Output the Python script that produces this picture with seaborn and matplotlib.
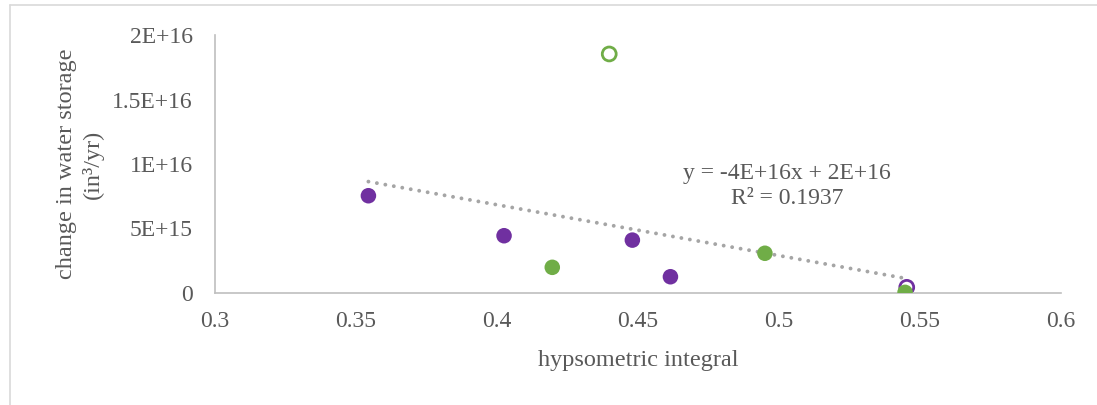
import numpy as np
import pandas as pd
import matplotlib
matplotlib.use("Agg")
import matplotlib.pyplot as plt
from matplotlib.lines import Line2D
import seaborn as sns

# ---- data ----
hyps_integral = [0.3544, 0.4025, 0.448, 0.4615, 0.5453, 0.4196, 0.495, 0.5447, 0.4398]
storage_change = [7.54e15, 4.44e15, 4.10e15, 1.26e15, 0.44e15, 1.99e15, 3.08e15, 0.05e15, 1.853e16]
group = ["purple", "purple", "purple", "purple", "purple", "green", "green", "green", "green"]
filled = [True, True, True, True, False, True, True, True, False]
x_ticks = [0.3, 0.35, 0.4, 0.45, 0.5, 0.55, 0.6]
y_ticks = [0, 5e15, 1e16, 1.5e16, 2e16]
y_tick_labels = ["0", "5E+15", "1E+16", "1.5E+16", "2E+16"]
trend_label = "y = -4E+16x + 2E+16\nR² = 0.1937"

df = pd.DataFrame({"hi": hyps_integral, "ds": storage_change,
                   "group": group, "filled": filled})

palette = {"purple": "#7030A0", "green": "#70AD47"}
TEXT = "#595959"

sns.set_theme(style="white")
plt.rcParams["font.family"] = ["Liberation Serif", "DejaVu Serif"]

fig = plt.figure(figsize=(10.97, 4.05), dpi=100)
ax = fig.add_axes([215/1097, 1-293/405, (1061-215)/1097, (293-35)/405])

# trendline over all points
slope, intercept = np.polyfit(df["hi"], df["ds"], 1)
xs = np.array([df["hi"].min(), df["hi"].max()])
ax.plot(xs, slope*xs + intercept, color="#A5A5A5", lw=2.8,
        linestyle=(0, (0.01, 2.2)), dash_capstyle="round", zorder=1)

open_df = df[~df["filled"]]
sns.scatterplot(data=open_df, x="hi", y="ds", hue="group", palette=palette,
                s=100, linewidth=2, legend=False, ax=ax, zorder=2)
coll = ax.collections[-1]
coll.set_edgecolors([palette[g] for g in open_df["group"]])
coll.set_facecolors("none")

sns.scatterplot(data=df[df["filled"]], x="hi", y="ds", hue="group",
                palette=palette, s=125, edgecolor="none", legend=False,
                ax=ax, zorder=3)

ax.set_xlim(x_ticks[0], x_ticks[-1])
ax.set_ylim(y_ticks[0], y_ticks[-1])
ax.set_xticks(x_ticks)
ax.set_xticklabels([f"{t:g}" for t in x_ticks])
ax.set_yticks(y_ticks)
ax.set_yticklabels(y_tick_labels)
ax.tick_params(axis="both", length=0, labelsize=17, colors=TEXT)
ax.tick_params(axis="x", pad=13)
ax.tick_params(axis="y", pad=16)

for s in ["top", "right"]:
    ax.spines[s].set_visible(False)
for s in ["left", "bottom"]:
    ax.spines[s].set_color("#BFBFBF")
    ax.spines[s].set_linewidth(1.2)
ax.grid(False)

ax.set_xlabel("hypsometric integral", fontsize=17.5, color=TEXT, labelpad=13)
ax.set_ylabel("change in water storage\n(in³/yr)", fontsize=17.5,
              color=TEXT, labelpad=6, linespacing=1.3)

ax.text(0.676, 0.415, trend_label, transform=ax.transAxes, ha="center",
        va="center", fontsize=17, color=TEXT, linespacing=1.2)

# outer chart border (top and left visible)
fig.add_artist(Line2D([10/1097, 1], [1-5/405, 1-5/405], color="#D9D9D9", lw=1.2))
fig.add_artist(Line2D([10/1097, 10/1097], [0, 1-5/405], color="#D9D9D9", lw=1.2))

fig.savefig("out.png", dpi=100, facecolor="white")
